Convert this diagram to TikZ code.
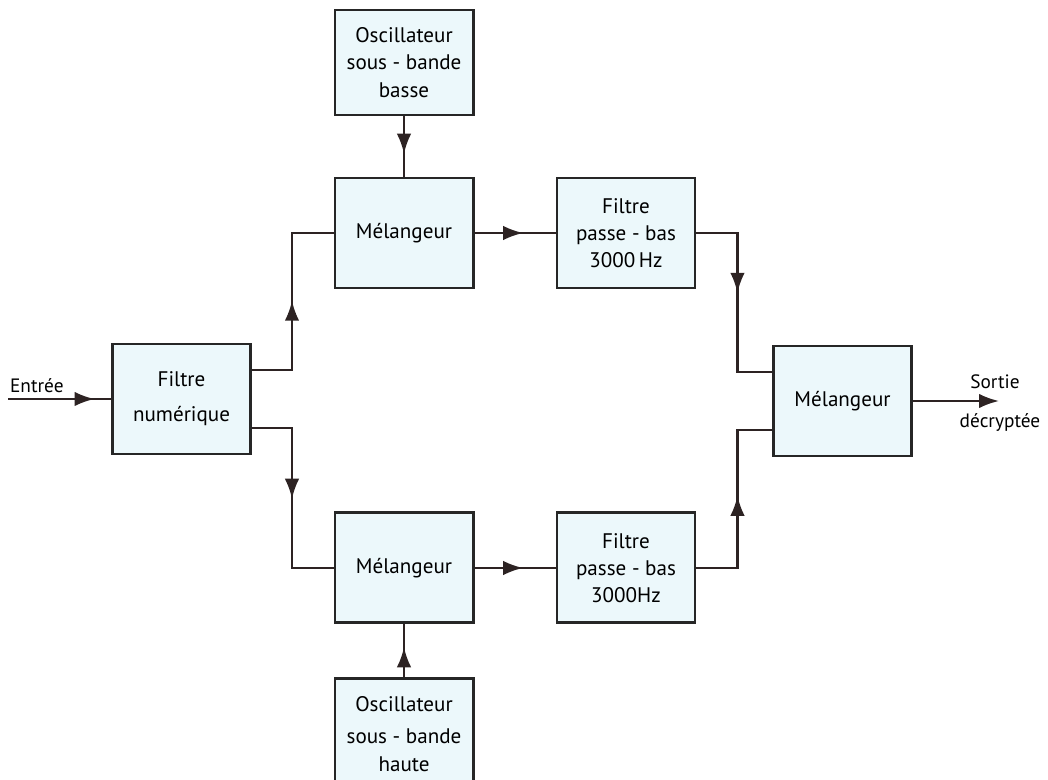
\documentclass[tikz,border=0pt]{standalone}
\usepackage{fontspec}
\setmainfont{PT Sans}
\usepackage{tikz}
\usetikzlibrary{arrows.meta,positioning,decorations.markings}
\definecolor{boxcyan}{RGB}{236,248,251}
\definecolor{wiredark}{RGB}{45,35,35}
\tikzset{
  blockbox/.style={
    draw=black!85,line width=1.7pt,fill=boxcyan,align=center,
    minimum width=27.6mm,minimum height=22mm,inner sep=2pt,
    font=\fontsize{12}{15.5}\selectfont
  },
  oscbox/.style={blockbox,minimum height=21mm},
  wire/.style={draw=wiredark,line width=1.3pt},
  midtip/.style={postaction={decorate,decoration={markings,
    mark=at position #1 with {\arrow{Latex[length=4mm,width=2.9mm]}}}}},
  sidelabel/.style={font=\fontsize{11}{13}\selectfont,inner sep=1pt}
}

\begin{document}
\begin{tikzpicture}
  \useasboundingbox (0,0) rectangle (20.96,-15.6);
  % upper branch
  \node[blockbox] (melhaut) at (8.08,-4.66) {Mélangeur};
  \node[oscbox,above=12mm of melhaut] (oschaut) {Oscillateur\\sous - bande\\basse};
  \node[blockbox,right=16.2mm of melhaut] (filhaut) {Filtre\\passe - bas\\3000\,Hz};
  % lower branch
  \node[blockbox,below=44.4mm of melhaut] (melbas) {Mélangeur};
  \node[blockbox,right=16.2mm of melbas] (filbas) {Filtre\\passe - bas\\3000Hz};
  \node[blockbox,below=10.6mm of melbas] (oscbas) {Oscillateur\\[1mm]sous - bande\\haute};
  % input and output
  \node[blockbox] (numfilt) at (3.63,-7.98) {Filtre\\[1.5mm]numérique};
  \node[blockbox] (melsortie) at (16.85,-8.02) {Mélangeur};
  \coordinate[left=20.6mm of numfilt.west] (entree);
  \coordinate[right=17.2mm of melsortie.east] (sortie);
  \node[sidelabel,anchor=south west] (entlbl) at ([yshift=0.9mm]entree) {Entrée};
  \node[sidelabel] (sortlbl) at ([xshift=-0.8mm,yshift=3.9mm]sortie) {Sortie};
  \node[sidelabel] (decrlbl) at ([xshift=0.2mm,yshift=-4.4mm]sortie) {décryptée};

  \draw[wire,midtip=0.84] (entree) -- (numfilt.west);
  \draw[wire,midtip=0.5] ([yshift=5.8mm]numfilt.east) -- ++(8mm,0) |- (melhaut.west);
  \draw[wire,midtip=0.5] ([yshift=-5.8mm]numfilt.east) -- ++(8mm,0) |- (melbas.west);
  \draw[wire,midtip=0.62] (oschaut) -- (melhaut);
  \draw[wire,midtip=0.57] (oscbas) -- (melbas);
  \draw[wire,midtip=0.6] (melhaut) -- (filhaut);
  \draw[wire,midtip=0.6] (melbas) -- (filbas);
  \draw[wire,midtip=0.47] (filhaut.east) -- ++(8.2mm,0) |- ([yshift=5.8mm]melsortie.west);
  \draw[wire,midtip=0.53] (filbas.east) -- ++(8.2mm,0) |- ([yshift=-5.8mm]melsortie.west);
  \draw[wire,-{Latex[length=4mm,width=2.9mm]}] (melsortie) -- (sortie);
\end{tikzpicture}
\end{document}
